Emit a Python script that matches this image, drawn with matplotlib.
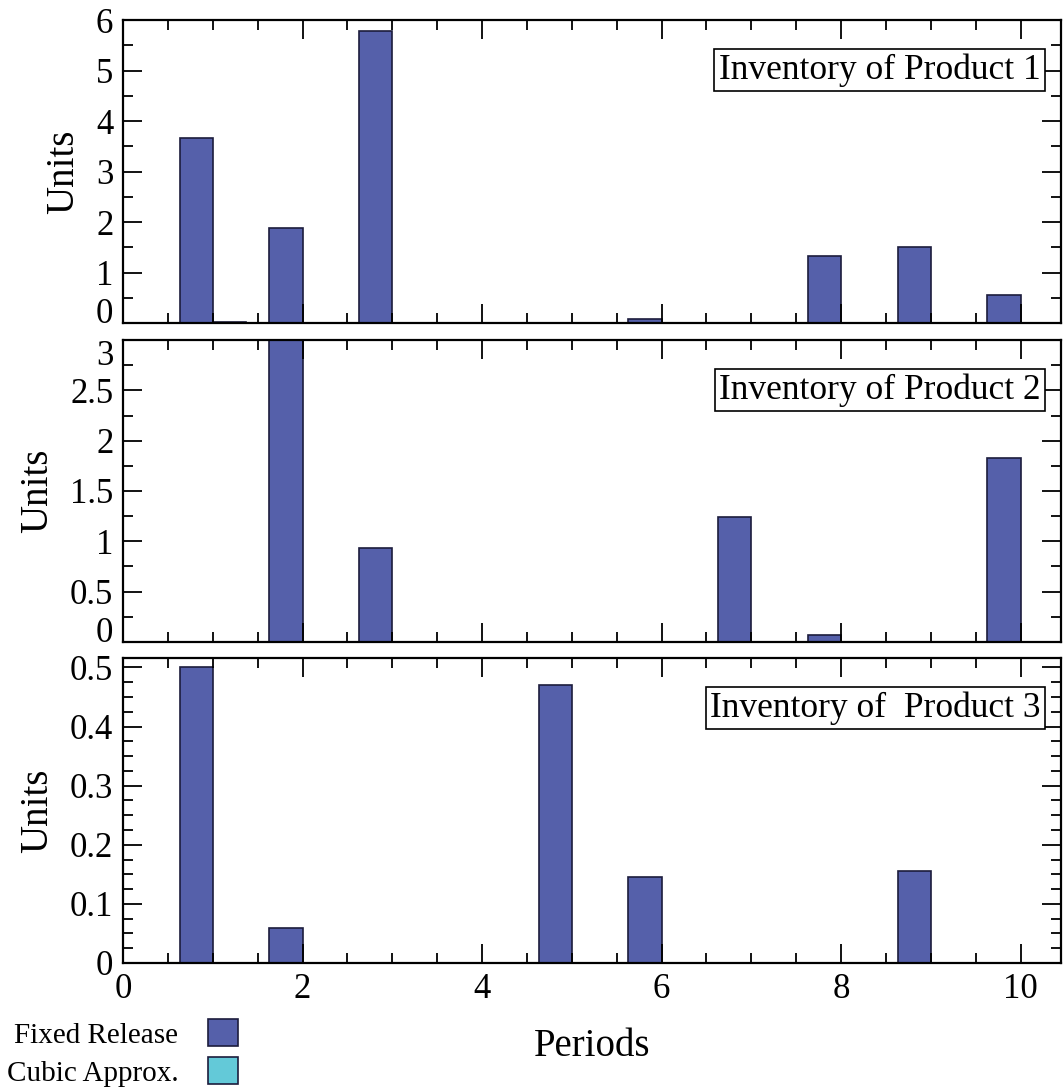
import numpy as np
import matplotlib
matplotlib.use("Agg")
import matplotlib.pyplot as plt
from matplotlib.ticker import MultipleLocator, FormatStrFormatter
from matplotlib.patches import Patch

plt.rcParams['font.family'] = ['Liberation Serif', 'DejaVu Serif']

periods = np.arange(1, 11)
series_names = ["Fixed Release", "Cubic Approx."]
titles = ["Inventory of Product 1", "Inventory of Product 2", "Inventory of  Product 3"]

# fixed release inventory per product
fixed_p1 = [3.66, 1.88, 5.78, 0, 0, 0.08, 0, 1.33, 1.50, 0.55]
fixed_p2 = [0, 3.2, 0.93, 0, 0, 0, 1.24, 0.07, 0, 1.83]
fixed_p3 = [0.50, 0.06, 0, 0, 0.47, 0.145, 0, 0, 0.156, 0]

# cubic approximation inventory per product
cubic_p1 = [0.03, 0, 0, 0, 0, 0, 0, 0, 0, 0]
cubic_p2 = [0, 0, 0, 0, 0, 0, 0, 0, 0, 0]
cubic_p3 = [0, 0, 0, 0, 0, 0, 0, 0, 0, 0]

fixed = [fixed_p1, fixed_p2, fixed_p3]
cubic = [cubic_p1, cubic_p2, cubic_p3]

ylims = [(0, 6), (0, 3), (0, 0.516)]
major = [1, 0.5, 0.1]
minor = [0.5, 0.25, 0.025]

c_fixed = "#5560AA"
c_cubic = "#63C9D8"
edge = "#1c1c3c"

fig = plt.figure(figsize=(10.63, 10.87), dpi=100)
# axes boxes [left, bottom, width, height] in figure fractions
boxes = [[0.1157, 0.7028, 0.8825, 0.2788],
         [0.1157, 0.4094, 0.8825, 0.2778],
         [0.1157, 0.1141, 0.8825, 0.2806]]

w = 0.37
axes = []
for k in range(3):
    ax = fig.add_axes(boxes[k])
    axes.append(ax)
    ax.bar(periods - w / 2, fixed[k], width=w, color=c_fixed, edgecolor=edge, linewidth=1.2)
    ax.bar(periods + w / 2, cubic[k], width=w, color=c_cubic, edgecolor=edge, linewidth=1.2)
    ax.set_xlim(0, 10.45)
    ax.set_ylim(*ylims[k])
    ax.xaxis.set_major_locator(MultipleLocator(2))
    ax.xaxis.set_minor_locator(MultipleLocator(0.5))
    ax.yaxis.set_major_locator(MultipleLocator(major[k]))
    ax.yaxis.set_minor_locator(MultipleLocator(minor[k]))
    ax.yaxis.set_major_formatter(FormatStrFormatter('%g'))
    ax.tick_params(which='both', direction='in', top=True, right=True, width=1.3, labelsize=25, pad=7)
    ax.tick_params(which='major', length=14)
    ax.tick_params(which='minor', length=7)
    for s in ax.spines.values():
        s.set_linewidth(1.6)
    ax.set_ylabel("Units", fontsize=28, labelpad=10)
    ax.text(0.978, 0.89, titles[k], transform=ax.transAxes, ha='right', va='top',
            fontsize=25.5, bbox=dict(boxstyle='square,pad=0.12', fc='white', ec='black', lw=1.2))
    if k < 2:
        ax.tick_params(labelbottom=False)

fig.canvas.draw()
# nudge end labels so neighbouring panels don't collide
for k in range(2):
    for t in axes[k].get_yticklabels():
        if t.get_text() == '0':
            t.set_verticalalignment('baseline')
for t in axes[1].get_yticklabels():
    if t.get_text() == '3':
        t.set_verticalalignment('top')

axes[2].set_xlabel("Periods", fontsize=28, labelpad=16)

handles = [Patch(facecolor=c_fixed, edgecolor=edge, lw=1.2),
           Patch(facecolor=c_cubic, edgecolor=edge, lw=1.2)]
fig.legend(handles, series_names, loc='lower left', bbox_to_anchor=(-0.01, -0.016),
           frameon=False, markerfirst=False, fontsize=21, handlelength=1.05,
           handleheight=1.05, handletextpad=1.0, labelspacing=0.3, borderaxespad=0.2)

fig.savefig("out.png", dpi=100)
